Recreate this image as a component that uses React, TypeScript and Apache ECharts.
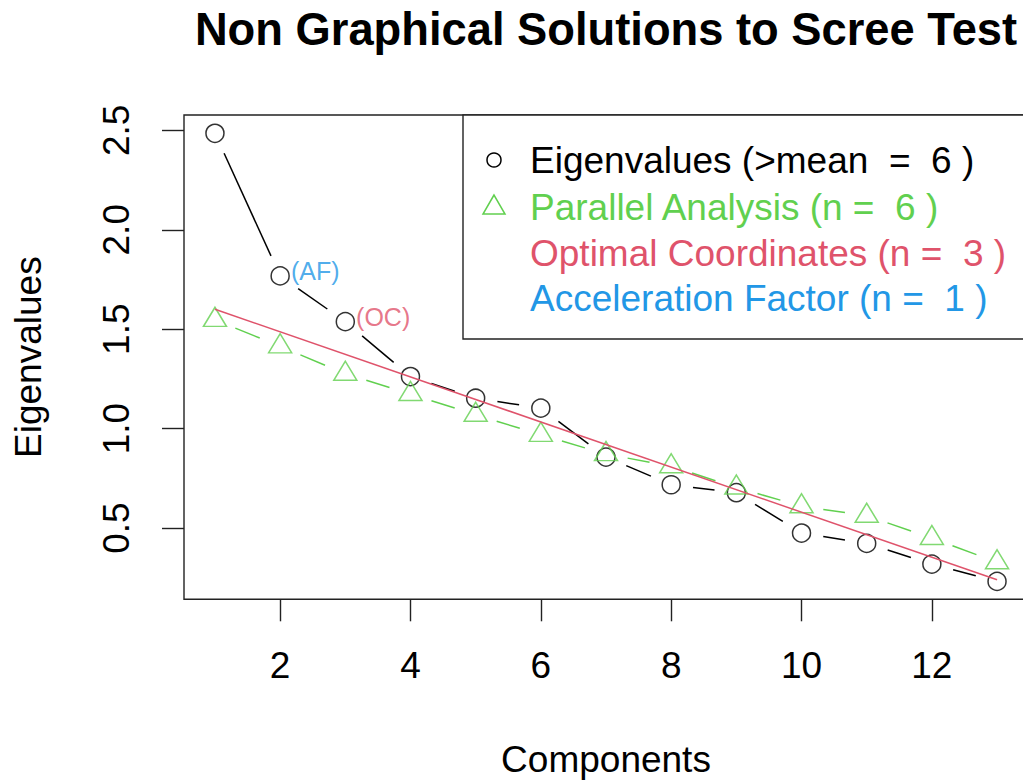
import React, { useEffect, useRef } from "react";
import * as echarts from "echarts";

const components = [1, 2, 3, 4, 5, 6, 7, 8, 9, 10, 11, 12, 13];
const eigenvalues = [2.485, 1.768, 1.538, 1.262, 1.153, 1.103, 0.857, 0.718, 0.678, 0.475, 0.423, 0.319, 0.232];
const parallelAnalysis = [1.547, 1.414, 1.276, 1.174, 1.07, 0.969, 0.872, 0.811, 0.704, 0.61, 0.562, 0.45, 0.328];
const ocLineX = [1, 13];
const ocLineY = [1.6, 0.24];
const xTicks = [2, 4, 6, 8, 10, 12];
const yTicks = [0.5, 1.0, 1.5, 2.0, 2.5];
const annotations = ["", "(AF)", "(OC)"];
const legendLabels = [
  "Eigenvalues (>mean  =  6 )",
  "Parallel Analysis (n =  6 )",
  "Optimal Coordinates (n =  3 )",
  "Acceleration Factor (n =  1 )",
];

const BLACK = "#000000";
const RED = "#DF536B";
const GREEN = "#61D04F";
const BLUE = "#2297E6";
const FONT = "'Liberation Sans', Arial, Helvetica, sans-serif";
const GAP = 22;
const FS = 37;

function segments(ys: number[]) {
  return ys.slice(0, -1).map((y, i) => [components[i], y, components[i + 1], ys[i + 1]]);
}

function gapRender(color: string) {
  return (params: any, api: any) => {
    const p0 = api.coord([api.value(0), api.value(1)]);
    const p1 = api.coord([api.value(2), api.value(3)]);
    const dx = p1[0] - p0[0];
    const dy = p1[1] - p0[1];
    const L = Math.hypot(dx, dy);
    if (L <= 2 * GAP) return { type: "group", children: [] };
    const ux = dx / L;
    const uy = dy / L;
    return {
      type: "line",
      shape: { x1: p0[0] + ux * GAP, y1: p0[1] + uy * GAP, x2: p1[0] - ux * GAP, y2: p1[1] - uy * GAP },
      style: { stroke: color, lineWidth: 1.5, fill: null },
    };
  };
}

export default function App() {
  const ref = useRef<HTMLDivElement>(null);
  useEffect(() => {
    document.body.style.margin = "0";
    document.body.style.overflow = "hidden";
    const chart = echarts.init(ref.current!, null, { renderer: "svg" });
    const legendRowsY = [160, 207, 253, 298];
    const legendColors = [BLACK, GREEN, RED, BLUE];
    const option: any = {
      animation: false,
      backgroundColor: "#ffffff",
      textStyle: { fontFamily: FONT },
      grid: { left: 184, top: 115, right: 0, bottom: 184.7, show: true, borderColor: "#222", borderWidth: 1.4, backgroundColor: "transparent" },
      xAxis: {
        type: "value",
        min: 0.525,
        max: 13.475,
        name: "Components",
        nameLocation: "middle",
        nameGap: 160,
        nameTextStyle: { fontSize: FS, color: BLACK, fontFamily: FONT, verticalAlign: "middle" },
        axisLine: { show: false },
        splitLine: { show: false },
        axisTick: { show: true, length: 22, customValues: xTicks, lineStyle: { color: "#222", width: 1.4 } },
        axisLabel: { customValues: xTicks, fontSize: FS, color: BLACK, fontFamily: FONT, margin: 48 },
      },
      yAxis: {
        type: "value",
        min: 0.142,
        max: 2.577,
        name: "Eigenvalues",
        nameLocation: "middle",
        nameGap: 156,
        nameRotate: 90,
        nameTextStyle: { fontSize: FS, color: BLACK, fontFamily: FONT, verticalAlign: "middle" },
        axisLine: { show: false },
        splitLine: { show: false },
        axisTick: { show: true, length: 22, customValues: yTicks, lineStyle: { color: "#222", width: 1.4 } },
        axisLabel: {
          customValues: yTicks,
          rotate: 90,
          fontSize: FS,
          color: BLACK,
          fontFamily: FONT,
          margin: 49,
          formatter: (v: number) => v.toFixed(1),
        },
      },
      series: [
        {
          type: "custom",
          name: "eigen-line",
          renderItem: gapRender(BLACK),
          data: segments(eigenvalues),
          encode: { x: [0, 2], y: [1, 3] },
          silent: true,
          z: 2,
        },
        {
          type: "custom",
          name: "pa-line",
          renderItem: gapRender(GREEN),
          data: segments(parallelAnalysis),
          encode: { x: [0, 2], y: [1, 3] },
          silent: true,
          z: 2,
        },
        {
          type: "scatter",
          name: "Eigenvalues",
          symbol: "circle",
          symbolSize: 18,
          itemStyle: { color: "rgba(255,255,255,0)", borderColor: BLACK, borderWidth: 1.5 },
          data: components.map((c, i) => {
            const item: any = { value: [c, eigenvalues[i]] };
            if (annotations[i]) {
              item.label = {
                show: true,
                formatter: annotations[i],
                position: "right",
                distance: 1,
                offset: [0, -5],
                color: annotations[i] === "(AF)" ? BLUE : RED,
                fontSize: 25,
                fontFamily: FONT,
              };
            }
            return item;
          }),
          z: 3,
        },
        {
          type: "scatter",
          name: "Parallel Analysis",
          symbol: "triangle",
          symbolSize: [23, 19],
          symbolOffset: [0, -3],
          itemStyle: { color: "rgba(255,255,255,0)", borderColor: GREEN, borderWidth: 1.5 },
          data: components.map((c, i) => [c, parallelAnalysis[i]]),
          z: 3,
        },
        {
          type: "line",
          name: "Optimal Coordinates",
          showSymbol: false,
          lineStyle: { color: RED, width: 1.5 },
          data: ocLineX.map((x, i) => [x, ocLineY[i]]),
          z: 4,
        },
      ],
      graphic: [
        {
          type: "text",
          x: 606,
          y: 29,
          style: {
            text: "Non Graphical Solutions to Scree Test",
            fontSize: 45.3,
            fontWeight: "bold",
            fontFamily: FONT,
            fill: BLACK,
            align: "center",
            verticalAlign: "middle",
          },
        },
        {
          type: "rect",
          shape: { x: 463, y: 115, width: 600, height: 224 },
          style: { fill: "#ffffff", stroke: "#222", lineWidth: 1.4 },
          z: 10,
        },
        {
          type: "circle",
          shape: { cx: 494, cy: legendRowsY[0], r: 7 },
          style: { fill: "none", stroke: BLACK, lineWidth: 1.5 },
          z: 11,
        },
        {
          type: "polygon",
          shape: {
            points: [
              [494, legendRowsY[1] - 12],
              [483, legendRowsY[1] + 7],
              [505, legendRowsY[1] + 7],
            ],
          },
          style: { fill: "none", stroke: GREEN, lineWidth: 1.5 },
          z: 11,
        },
        ...legendLabels.map((t, i) => ({
          type: "text",
          x: 530,
          y: legendRowsY[i],
          style: {
            text: t,
            fontSize: FS,
            fontFamily: FONT,
            fill: legendColors[i],
            align: "left",
            verticalAlign: "middle",
          },
          z: 11,
        })),
      ],
    };
    chart.setOption(option);
    return () => chart.dispose();
  }, []);
  return <div ref={ref} style={{ position: "fixed", left: 0, top: 0, width: 1028, height: 784 }} />;
}
